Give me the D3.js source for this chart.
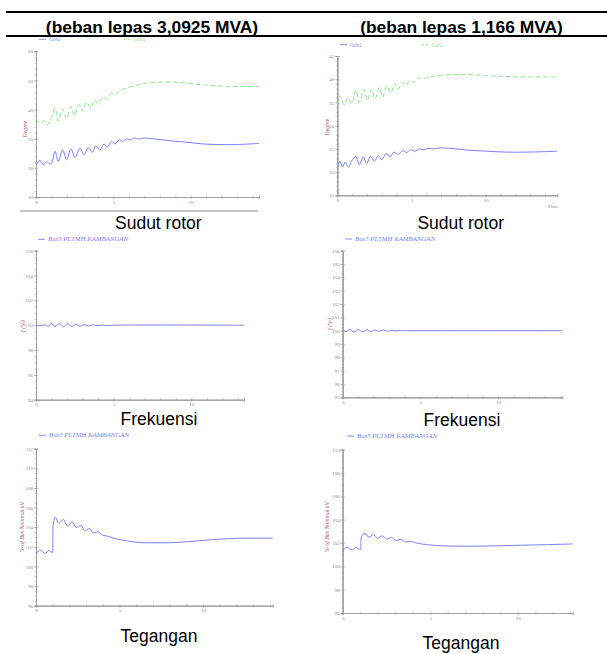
<!DOCTYPE html>
<html>
<head>
<meta charset="utf-8">
<script src="https://cdn.jsdelivr.net/npm/d3@7"></script>
<style>
  body { margin: 0; background: #fff; }
  svg { display: block; }
</style>
</head>
<body>
<div id="figure"></div>
<script>
// ---- data (time in s, value) ----
const titles = ["(beban lepas 3,0925 MVA)", "(beban lepas 1,166 MVA)"];
const captions = ["Sudut rotor", "Frekuensi", "Tegangan"];
const busName = "Bus5 PLTMH KAMBANGAN";

// rotor angle, 3,0925 MVA
const rotorA_gen1 = [[0,21.0],[0.26,22.5],[0.47,21.0],[0.69,22.1],[0.9,21.3],[1.01,21.6],[1.23,25.7],[1.44,22.2],[1.72,26.1],[1.98,22.8],[2.26,26.5],[2.52,23.6],[2.84,26.7],[3.1,24.5],[3.38,27.0],[3.63,25.3],[3.87,27.5],[4.13,26.1],[4.39,28.2],[4.6,27.1],[4.88,29.1],[5.1,28.2],[5.38,29.6],[5.59,29.1],[5.85,29.9],[6.11,29.6],[6.39,30.3],[6.6,29.9],[6.92,30.2],[7.57,30.0],[8.65,29.3],[9.72,28.8],[10.8,28.2],[11.87,28.0],[12.95,28.0],[14.41,28.4]];
const rotorA_gen2 = [[0,35.1],[0.15,36.0],[0.3,35.3],[0.52,36.2],[0.73,34.8],[0.95,36.4],[1.23,40.5],[1.44,36.0],[1.72,40.2],[1.98,36.8],[2.26,41.0],[2.47,37.9],[2.8,41.7],[3.01,39.4],[3.27,42.5],[3.53,40.5],[3.81,43.3],[4.02,41.9],[4.34,44.4],[4.56,43.6],[4.88,45.6],[5.1,45.1],[5.42,46.5],[5.85,47.4],[6.39,48.2],[7.03,49.0],[8.0,49.4],[9.08,49.4],[10.15,48.8],[11.23,48.3],[12.3,48.0],[14.41,47.9]];

// rotor angle, 1,166 MVA
const rotorB_gen1 = [[0,21.0],[0.18,22.3],[0.36,21.1],[0.54,22.2],[0.74,21.0],[0.97,22.4],[1.26,23.3],[1.48,21.6],[1.75,23.3],[1.98,21.9],[2.25,23.4],[2.49,22.3],[2.76,23.5],[3.01,22.7],[3.28,24.0],[3.55,23.3],[3.82,24.3],[4.11,23.8],[4.4,24.6],[4.67,24.2],[4.94,24.8],[5.24,24.5],[5.53,25.0],[5.8,24.8],[6.13,25.1],[6.47,25.0],[6.92,25.2],[7.82,25.05],[8.94,24.7],[10.07,24.5],[11.42,24.3],[12.76,24.3],[14.83,24.5]];
const rotorB_gen2 = [[0,34.5],[0.22,36.4],[0.45,34.5],[0.72,36.1],[0.97,34.7],[1.26,37.7],[1.48,35.0],[1.8,37.8],[2.02,35.4],[2.31,37.9],[2.54,35.7],[2.83,38.2],[3.06,36.1],[3.33,38.6],[3.6,37.0],[3.89,39.1],[4.11,37.9],[4.4,39.3],[4.63,38.6],[4.9,39.8],[5.17,39.3],[5.46,40.3],[5.69,40.05],[6.25,40.55],[6.92,40.85],[7.82,41.0],[8.94,41.0],[10.07,40.75],[11.19,40.6],[12.31,40.5],[14.83,40.5]];

// frequency (%)
const freqA = [[0,100.0],[0.26,99.95],[0.58,100.03],[0.79,99.92],[1.01,100.16],[1.22,99.87],[1.5,100.13],[1.76,99.87],[2.02,100.11],[2.3,99.89],[2.58,100.08],[2.83,99.92],[3.09,100.05],[3.37,99.95],[3.65,100.03],[3.91,99.97],[4.23,100.01],[4.55,99.97],[4.98,100.0],[13.39,100.0]];
const freqB = [[0,100.05],[0.21,99.93],[0.47,100.08],[0.73,99.9],[1.01,100.08],[1.29,99.9],[1.55,100.08],[1.8,99.92],[2.08,100.05],[2.36,99.95],[2.62,100.05],[2.88,99.95],[3.15,100.03],[3.43,99.98],[3.69,100.01],[3.91,100.0],[14.14,100.0]];

// voltage (% of bus nominal kV)
const voltA = [[0,101.25],[0.1,101.5],[0.24,101.66],[0.4,101.5],[0.56,101.32],[0.76,101.66],[0.92,101.46],[1.0,101.42],[1.02,104.2],[1.16,105.0],[1.36,104.4],[1.64,104.8],[1.9,104.1],[2.16,104.55],[2.4,103.97],[2.69,104.2],[2.91,103.63],[3.19,103.87],[3.43,103.43],[3.69,103.53],[3.99,103.19],[4.29,103.09],[4.69,102.85],[5.19,102.68],[5.79,102.51],[6.59,102.41],[7.78,102.41],[8.98,102.51],[10.18,102.68],[11.38,102.82],[12.97,102.88],[14.17,102.88]];
const voltB = [[0,101.26],[0.11,101.55],[0.27,101.63],[0.42,101.46],[0.57,101.4],[0.74,101.63],[0.88,101.52],[1.03,101.46],[1.05,102.49],[1.26,102.84],[1.5,102.49],[1.75,102.72],[1.98,102.41],[2.27,102.61],[2.51,102.32],[2.78,102.49],[3.03,102.21],[3.31,102.32],[3.6,102.09],[3.89,102.12],[4.27,101.98],[4.84,101.86],[5.79,101.75],[7.12,101.72],[8.65,101.75],[10.17,101.81],[11.7,101.86],[13.14,101.92]];

// ---- styling ----
const blue = "#7e7eff";
const green = "#92e492";
const axisGrey = "#a0a0a0";
const labelGrey = "#8a8a8a";
const yTitleColor = "#a4587a";

const panels = [
  { xr: [36, 259], xMax: 14.41, yr: [197, 51.3], yDom: [10, 60], step: 10, minor: 2,
    series: [{ data: rotorA_gen1, color: blue, label: "Gen1", lx: 39, ly: 39.3 },
             { data: rotorA_gen2, color: green, dash: "5,2.5", label: "Gen2", lx: 124, ly: 39.3 }],
    yTitle: "Degree", yt: [26.7, 129], curve: d3.curveCatmullRom.alpha(0.5) },
  { xr: [337.3, 557.3], xMax: 14.83, yr: [195.3, 56], yDom: [15, 45], step: 5, minor: 1,
    series: [{ data: rotorB_gen1, color: blue, label: "Gen1", lx: 340, ly: 44.7 },
             { data: rotorB_gen2, color: green, dash: "5,2.5", label: "Gen2", lx: 421.7, ly: 44.7 }],
    yTitle: "Degree", yt: [329.3, 127], timeLabel: [552.5, 207.5], curve: d3.curveCatmullRom.alpha(0.5) },
  { xr: [36, 244], xMax: 13.39, yr: [399.7, 250.7], yDom: [94, 106], step: 2, minor: 0.5,
    series: [{ data: freqA, color: blue, label: busName, lx: 38, ly: 239.3 }],
    yTitle: "f (%)", yt: [25, 326], curve: d3.curveCatmullRom.alpha(0.5) },
  { xr: [342.7, 562.3], xMax: 14.14, yr: [397.3, 250.7], yDom: [95, 106], step: 1, minor: 0.25,
    series: [{ data: freqB, color: blue, label: busName, lx: 345, ly: 239 }],
    yTitle: "f (%)", yt: [331.7, 324], curve: d3.curveCatmullRom.alpha(0.5) },
  { xr: [36, 272.7], xMax: 14.17, yr: [605.7, 448.7], yDom: [96, 112], step: 2, minor: 0.5,
    series: [{ data: voltA, color: blue, label: busName, lx: 39, ly: 435.3 }],
    yTitle: "% of Bus Nominal kV", yt: [24, 527], curve: d3.curveMonotoneX },
  { xr: [342.7, 572.7], xMax: 13.14, yr: [613, 449.7], yDom: [96, 110], step: 2, minor: 0.5,
    series: [{ data: voltB, color: blue, label: busName, lx: 347, ly: 436 }],
    yTitle: "% of Bus Nominal kV", yt: [329.3, 527], curve: d3.curveMonotoneX }
];

const svg = d3.select("#figure").append("svg")
  .attr("width", 607)
  .attr("height", 654);

// table rules
svg.append("line").attr("x1", 6).attr("x2", 607).attr("y1", 12).attr("y2", 12)
  .attr("stroke", "#000").attr("stroke-width", 2);
svg.append("line").attr("x1", 6).attr("x2", 607).attr("y1", 36).attr("y2", 36)
  .attr("stroke", "#000").attr("stroke-width", 2);
svg.append("line").attr("x1", 20).attr("x2", 258).attr("y1", 211).attr("y2", 211)
  .attr("stroke", "#777").attr("stroke-width", 0.8);

svg.selectAll("text.title")
  .data(titles)
  .join("text")
  .attr("class", "title")
  .attr("x", (d, i) => [152, 461.5][i])
  .attr("y", 33.3)
  .attr("text-anchor", "middle")
  .style("font-family", "'Liberation Sans', Arial, sans-serif")
  .style("font-weight", "bold")
  .style("font-size", "17.4px")
  .text(d => d);

// captions under each row, left and right column
const captionPos = [
  { text: captions[0], x: 158.3, y: 228.5 }, { text: captions[0], x: 460.7, y: 229 },
  { text: captions[1], x: 159, y: 425 },     { text: captions[1], x: 462, y: 426 },
  { text: captions[2], x: 159, y: 642 },     { text: captions[2], x: 461, y: 648.5 }
];
svg.selectAll("text.caption")
  .data(captionPos)
  .join("text")
  .attr("class", "caption")
  .attr("x", d => d.x)
  .attr("y", d => d.y)
  .attr("text-anchor", "middle")
  .style("font-family", "'Liberation Sans', Arial, sans-serif")
  .style("font-size", "17.5px")
  .text(d => d.text);

function drawPanel(p) {
  const g = svg.append("g");
  const x = d3.scaleLinear().domain([0, p.xMax]).range(p.xr);
  const y = d3.scaleLinear().domain(p.yDom).range(p.yr);

  const yMajor = d3.range(p.yDom[0], p.yDom[1] + 1e-6, p.step);
  const yMinor = d3.range(p.yDom[0], p.yDom[1] + 1e-6, p.minor);
  const xMajor = d3.range(0, p.xMax + 1e-6, 5);
  const xMinor = d3.range(0, p.xMax + 1e-6, 1);

  const axisStyle = sel => {
    sel.select(".domain").attr("stroke", axisGrey).attr("stroke-width", 0.8);
    sel.selectAll(".tick line").attr("stroke", axisGrey).attr("stroke-width", 0.6);
    sel.selectAll(".tick text")
      .attr("fill", labelGrey)
      .style("font-family", "'Liberation Serif', 'DejaVu Serif', serif")
      .style("font-size", "5px");
  };

  // y axis: minor ticks both sides, major ticks with labels
  g.append("g").attr("transform", `translate(${p.xr[0]},0)`)
    .call(d3.axisRight(y).tickValues(yMinor).tickSize(1.2).tickFormat(""))
    .call(axisStyle);
  g.append("g").attr("transform", `translate(${p.xr[0]},0)`)
    .call(d3.axisLeft(y).tickValues(yMinor).tickSize(1.2).tickFormat(""))
    .call(axisStyle);
  g.append("g").attr("transform", `translate(${p.xr[0]},0)`)
    .call(d3.axisLeft(y).tickValues(yMajor).tickSize(2.2).tickPadding(0.8).tickFormat(d3.format("d")))
    .call(axisStyle);
  g.append("g").attr("transform", `translate(${p.xr[0]},0)`)
    .call(d3.axisRight(y).tickValues(yMajor).tickSize(2.2).tickFormat(""))
    .call(axisStyle);

  // x axis
  const y0 = p.yr[0];
  g.append("g").attr("transform", `translate(0,${y0})`)
    .call(d3.axisTop(x).tickValues(xMinor).tickSize(1.5).tickFormat(""))
    .call(axisStyle);
  g.append("g").attr("transform", `translate(0,${y0})`)
    .call(d3.axisBottom(x).tickValues(xMinor).tickSize(1.5).tickFormat(""))
    .call(axisStyle);
  g.append("g").attr("transform", `translate(0,${y0})`)
    .call(d3.axisBottom(x).tickValues(xMajor).tickSize(2).tickPadding(1).tickFormat(d3.format("d")))
    .call(axisStyle);

  // y title
  g.append("text")
    .attr("transform", `translate(${p.yt[0]},${p.yt[1]}) rotate(-90)`)
    .attr("text-anchor", "middle")
    .attr("fill", yTitleColor)
    .style("font-family", "'Liberation Serif', serif")
    .style("font-style", "italic")
    .style("font-size", "5.8px")
    .text(p.yTitle);

  if (p.timeLabel) {
    g.append("text")
      .attr("x", p.timeLabel[0]).attr("y", p.timeLabel[1])
      .attr("text-anchor", "middle")
      .attr("fill", labelGrey)
      .style("font-family", "'Liberation Serif', serif")
      .style("font-style", "italic")
      .style("font-size", "5px")
      .text("Time");
  }

  const line = d3.line()
    .x(d => x(d[0]))
    .y(d => y(d[1]))
    .curve(p.curve);

  p.series.forEach(s => {
    g.append("path")
      .datum(s.data)
      .attr("d", line)
      .attr("fill", "none")
      .attr("stroke", s.color)
      .attr("stroke-width", 1)
      .attr("stroke-dasharray", s.dash || null);

    // legend entry
    g.append("line")
      .attr("x1", s.lx).attr("x2", s.lx + 7)
      .attr("y1", s.ly).attr("y2", s.ly)
      .attr("stroke", s.color)
      .attr("stroke-width", 0.9)
      .attr("stroke-dasharray", s.dash ? "2.5,1.2" : null);
    g.append("text")
      .attr("x", s.lx + 10).attr("y", s.ly + 1.8)
      .attr("fill", s.color)
      .style("font-family", "'Liberation Serif', serif")
      .style("font-style", "italic")
      .style("font-size", s.label.length > 6 ? "6.8px" : "5.5px")
      .text(s.label);
  });
}

panels.forEach(drawPanel);
</script>
</body>
</html>
